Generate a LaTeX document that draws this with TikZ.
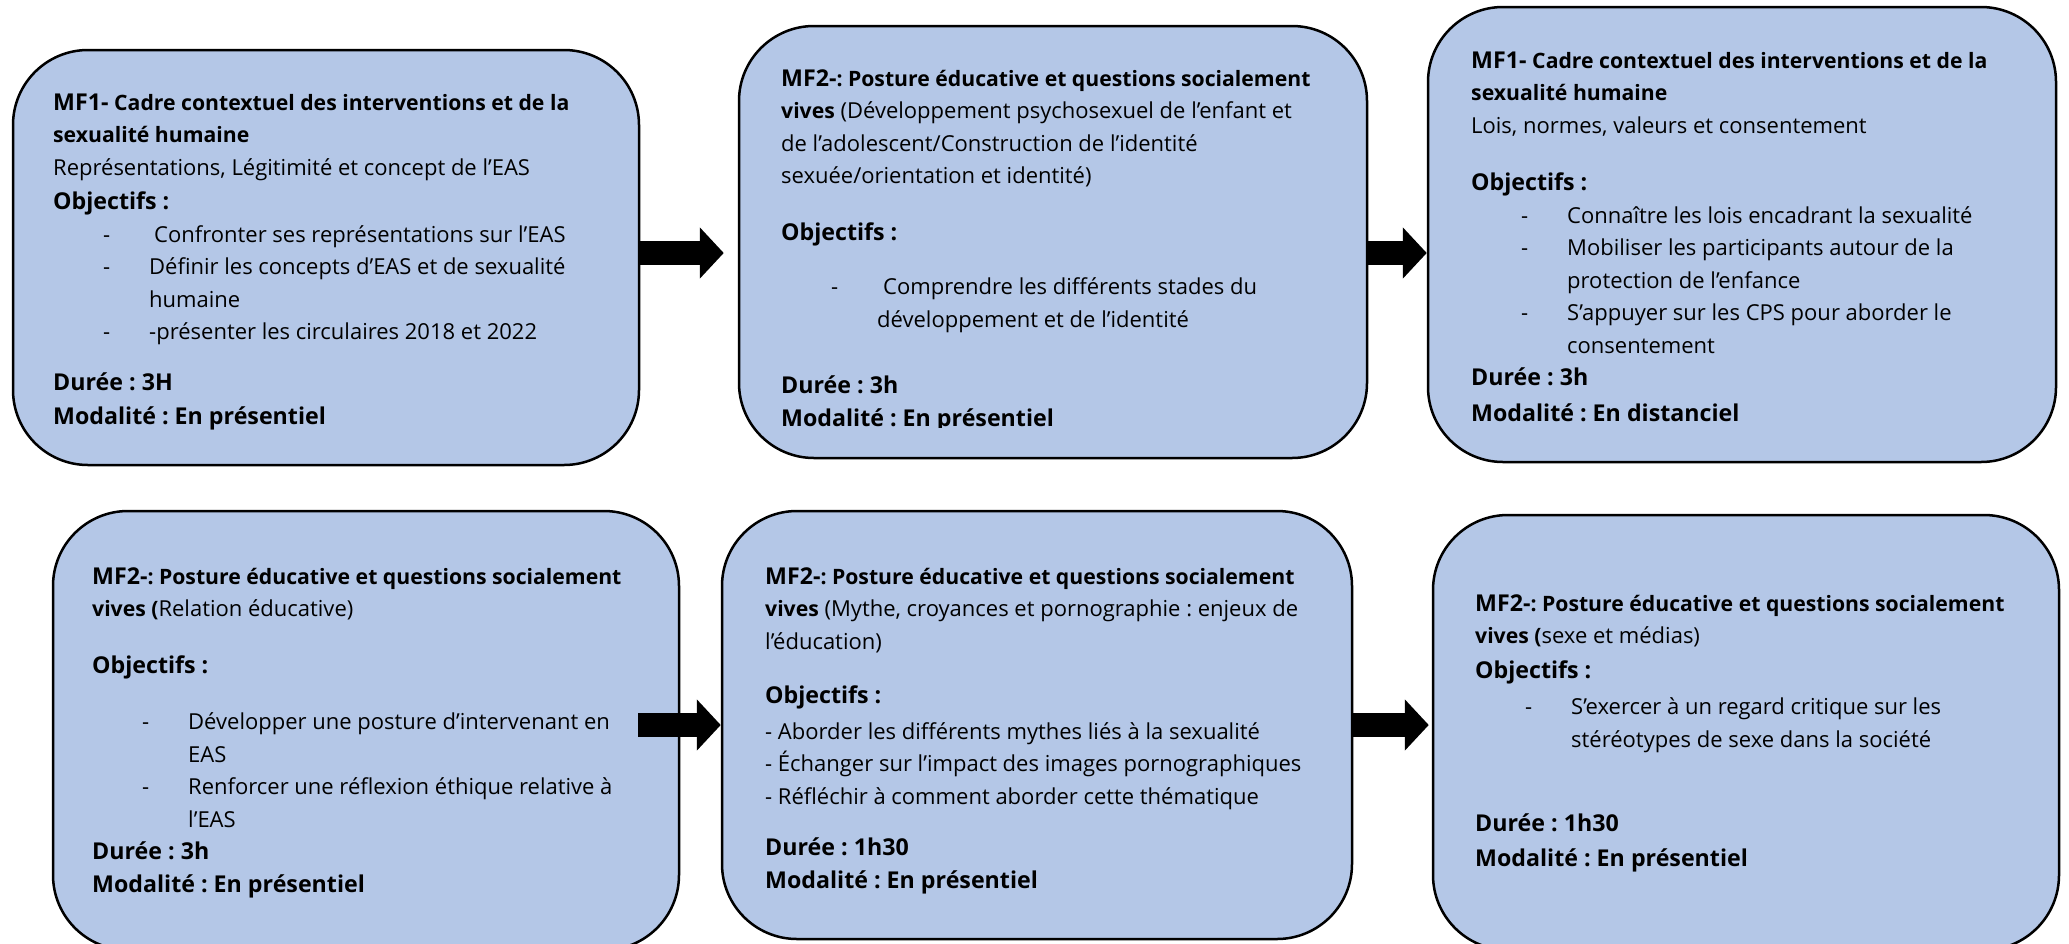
\documentclass[tikz,border=0pt]{standalone}
\usepackage{fontspec}
\setmainfont{Open Sans}[Ligatures=NoCommon]
\frenchspacing
\usetikzlibrary{positioning,arrows.meta}
\definecolor{boxblue}{RGB}{180,199,231}
\tikzset{module/.style={draw, line width=2.5pt, rounded corners=75pt, fill=boxblue, inner sep=0pt},
  txt/.style={anchor=north west, inner sep=0pt, align=left, font=\fontsize{22}{32.5}\selectfont},
  bigarrow/.style={draw=black, line width=24pt, -{Triangle[width=50pt,length=24pt]}}}
\newcommand{\mf}[1]{{\fontsize{23.2}{32.5}\selectfont\bfseries #1}}
\newcommand{\hd}[1]{{\fontsize{21.2}{32.5}\selectfont\bfseries #1}}
\newcommand{\tiret}[1]{\hspace*{50pt}\makebox[46pt][l]{-}#1}
\newcommand{\suite}[1]{\hspace*{96pt}#1}
\newcommand{\first}{\rule{0pt}{24pt}}

\begin{document}
\begin{tikzpicture}[x=1pt,y=-1pt]
\useasboundingbox (0,0) rectangle (2069,943);
% les six modules
\node[module, minimum width=626pt, minimum height=415pt] (b1) at (326,257.5) {};
\node[module, minimum width=628pt, minimum height=432pt] (b2) at (1053,242) {};
\node[module, minimum width=628pt, minimum height=455pt] (b3) at (1742,234.5) {};
\node[module, minimum width=626pt, minimum height=439pt] (b4) at (366,730.5) {};
\node[module, minimum width=630pt, minimum height=428pt] (b5) at (1037,725) {};
\node[module, minimum width=626pt, minimum height=435pt] (b6) at (1746,732.5) {};

\node[txt] (t1) at (53,86) {\first\mf{MF1-} \hd{Cadre contextuel des interventions et de la}\\
  \hd{sexualité humaine}\\
  Représentations, Légitimité et concept de l’EAS\\[2pt]
  \mf{Objectifs :}\\
  \tiret{\hspace{5pt}Confronter ses représentations sur l’EAS}\\
  \tiret{Définir les concepts d’EAS et de sexualité}\\
  \suite{humaine}\\
  \tiret{-présenter les circulaires 2018 et 2022}\\[18pt]
  \mf{Durée : 3H}\\[2pt]
  \mf{Modalité : En présentiel}};

\begin{scope}
\clip (739,26) rectangle (1367,427);
\node[txt] (t2) at (781,62) {\first\mf{MF2-}\hd{: Posture éducative et questions socialement}\\
  \hd{vives} (Développement psychosexuel de l’enfant et\\
  de l’adolescent/Construction de l’identité\\
  sexuée/orientation et identité)\\[24pt]
  \mf{Objectifs :}\\[22pt]
  \tiret{\hspace{6pt}Comprendre les différents stades du}\\
  \suite{développement et de l’identité}\\[34pt]
  \mf{Durée : 3h}\\
  \mf{Modalité : En présentiel}};
\end{scope}

\node[txt] (t3) at (1471,44) {\first\mf{MF1-} \hd{Cadre contextuel des interventions et de la}\\
  \hd{sexualité humaine}\\
  Lois, normes, valeurs et consentement\\[25pt]
  \mf{Objectifs :}\\
  \tiret{Connaître les lois encadrant la sexualité}\\
  \tiret{Mobiliser les participants autour de la}\\
  \suite{protection de l’enfance}\\
  \tiret{S’appuyer sur les CPS pour aborder le}\\
  \suite{consentement}\\
  \mf{Durée : 3h}\\[3pt]
  \mf{Modalité : En distanciel}};

\node[txt] (t4) at (92,560) {\first\mf{MF2-}\hd{: Posture éducative et questions socialement}\\
  \hd{vives (}Relation éducative)\\[24pt]
  \mf{Objectifs :}\\[24pt]
  \tiret{Développer une posture d’intervenant en}\\
  \suite{EAS}\\
  \tiret{Renforcer une réflexion éthique relative à}\\
  \suite{l’EAS}\\
  \mf{Durée : 3h}\\
  \mf{Modalité : En présentiel}};

\node[txt] (t5) at (765,560) {\first\mf{MF2-}\hd{: Posture éducative et questions socialement}\\
  \hd{vives} (Mythe, croyances et pornographie : enjeux de\\
  l’éducation)\\[22pt]
  \mf{Objectifs :}\\[3pt]
  - Aborder les différents mythes liés à la sexualité\\
  - Échanger sur l’impact des images pornographiques\\
  - Réfléchir à comment aborder cette thématique\\[19pt]
  \mf{Durée : 1h30}\\
  \mf{Modalité : En présentiel}};

\node[txt] (t6) at (1475,587) {\first\mf{MF2-}\hd{: Posture éducative et questions socialement}\\
  \hd{vives (}sexe et médias)\\[2pt]
  \mf{Objectifs :}\\[4pt]
  \tiret{S’exercer à un regard critique sur les}\\
  \suite{stéréotypes de sexe dans la société}\\[52pt]
  \mf{Durée : 1h30}\\[2pt]
  \mf{Modalité : En présentiel}};

% fleches entre les modules
\coordinate (r1) at (0,253);
\coordinate (r2) at (0,725);
\coordinate (s3) at (638,725);
\draw[bigarrow, shorten >=14pt] (b1.east |- r1) -- (b2.west |- r1);
\draw[bigarrow] (b2.east |- r1) -- (b3.west |- r1);
\draw[bigarrow] (s3) -- (b5.west |- r2);
\draw[bigarrow, shorten >=3pt] (b5.east |- r2) -- (b6.west |- r2);
\end{tikzpicture}
\end{document}
